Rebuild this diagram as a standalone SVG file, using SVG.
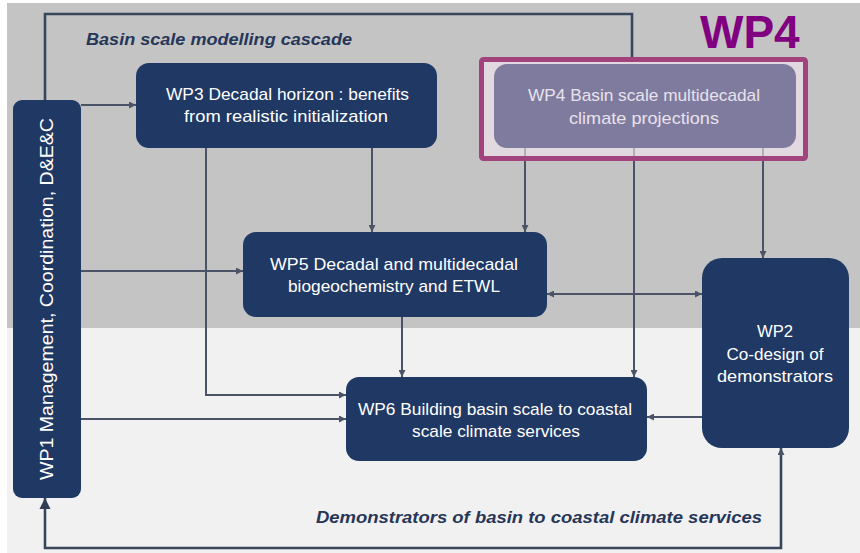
<svg xmlns="http://www.w3.org/2000/svg" width="860" height="553" viewBox="0 0 860 553">
<style>
.box{fill:#1f3864}
.t{font-family:"Liberation Sans",Arial,sans-serif;font-size:17px;fill:#ffffff;text-anchor:middle}
.lbl{font-family:"Liberation Sans",Arial,sans-serif;font-size:17px;font-weight:bold;font-style:italic;fill:#263659}
.c{fill:none;stroke:#4a5466;stroke-width:2}
.ck{fill:none;stroke:#38465c;stroke-width:2.6}
</style>
<defs>
<marker id="ah" viewBox="0 0 10 10" refX="10" refY="5" markerWidth="8" markerHeight="7" markerUnits="userSpaceOnUse" orient="auto-start-reverse">
<path d="M0,0 L10,5 L0,10 z" fill="#4a5466"/>
</marker>
<marker id="ahb" viewBox="0 0 10 10" refX="10" refY="5" markerWidth="11" markerHeight="12" markerUnits="userSpaceOnUse" orient="auto-start-reverse">
<path d="M0,0 L10,5 L0,10 z" fill="#2f3d55"/>
</marker>
</defs>
<rect x="0" y="0" width="860" height="553" fill="#ffffff"/>
<rect x="7" y="3" width="853" height="325" fill="#c4c4c4"/>
<rect x="7" y="328" width="853" height="225" fill="#f1f1f1"/>
<text class="lbl" x="86" y="45" textLength="266" lengthAdjust="spacingAndGlyphs">Basin scale modelling cascade</text>
<text class="lbl" x="316" y="523" textLength="446" lengthAdjust="spacingAndGlyphs">Demonstrators of basin to coastal climate services</text>
<g id="connectors">
<path class="ck" d="M45,100 V14 H632 V58"/>
<path class="c" d="M81,105 H136" marker-end="url(#ah)"/>
<path class="c" d="M81,271 H243" marker-end="url(#ah)"/>
<path class="c" d="M81,419 H346" marker-end="url(#ah)"/>
<path class="c" d="M206,148 V395 H346" marker-end="url(#ah)"/>
<path class="c" d="M372,148 V232" marker-end="url(#ah)"/>
<path class="c" d="M525,148 V232" marker-end="url(#ah)"/>
<path class="c" d="M634,148 V377" marker-end="url(#ah)"/>
<path class="c" d="M763,148 V258" marker-end="url(#ah)"/>
<path class="c" d="M402,317 V377" marker-end="url(#ah)"/>
<path class="c" d="M547,294 H702" marker-start="url(#ah)" marker-end="url(#ah)"/>
<path class="c" d="M702,417 H647" marker-end="url(#ah)"/>
<path class="ck" d="M45,498 V548 H781 V448" marker-start="url(#ahb)" marker-end="url(#ah)"/>
</g>
<g id="wp1">
<rect class="box" x="13" y="100" width="68" height="398" rx="9"/>
<text class="t" transform="translate(53,299) rotate(-90)" x="0" y="0" style="font-size:18px" textLength="362" lengthAdjust="spacingAndGlyphs">WP1 Management, Coordination, D&amp;E&amp;C</text>
</g>
<g id="wp3">
<rect class="box" x="136" y="63" width="301" height="85" rx="13"/>
<text class="t" x="287.5" y="100" textLength="243" lengthAdjust="spacingAndGlyphs">WP3 Decadal horizon : benefits</text>
<text class="t" x="286" y="122" textLength="204" lengthAdjust="spacingAndGlyphs">from realistic initialization</text>
</g>
<g id="wp4">
<rect x="481.5" y="59.5" width="324" height="99" fill="#f6e6f3" fill-opacity="0.6"/>
<rect x="494" y="64" width="302" height="84" rx="13" fill="#7f7b9e"/>
<text class="t" x="644" y="101" style="fill:#e8e2ec" textLength="232" lengthAdjust="spacingAndGlyphs">WP4 Basin scale multidecadal</text>
<text class="t" x="644" y="124" style="fill:#e8e2ec" textLength="150" lengthAdjust="spacingAndGlyphs">climate projections</text>
<rect x="481.5" y="59.5" width="324" height="99" rx="2" fill="none" stroke="#a3437e" stroke-width="5"/>
<text x="700" y="48" font-family="'Liberation Sans',Arial,sans-serif" font-size="46" font-weight="bold" fill="#800080">WP4</text>
</g>
<g id="wp5">
<rect class="box" x="243" y="232" width="304" height="85" rx="13"/>
<text class="t" x="394" y="270" textLength="248" lengthAdjust="spacingAndGlyphs">WP5  Decadal and multidecadal</text>
<text class="t" x="394" y="292" textLength="212" lengthAdjust="spacingAndGlyphs">biogeochemistry and ETWL</text>
</g>
<g id="wp6">
<rect class="box" x="346" y="377" width="301" height="84" rx="13"/>
<text class="t" x="495" y="415" textLength="274" lengthAdjust="spacingAndGlyphs">WP6 Building basin scale to coastal</text>
<text class="t" x="496" y="437" textLength="168" lengthAdjust="spacingAndGlyphs">scale climate services</text>
</g>
<g id="wp2">
<rect class="box" x="702" y="258" width="147" height="190" rx="20"/>
<text class="t" x="775" y="337" textLength="36" lengthAdjust="spacingAndGlyphs">WP2</text>
<text class="t" x="775" y="360" textLength="97" lengthAdjust="spacingAndGlyphs">Co-design of</text>
<text class="t" x="775" y="382" textLength="116" lengthAdjust="spacingAndGlyphs">demonstrators</text>
</g>
</svg>
